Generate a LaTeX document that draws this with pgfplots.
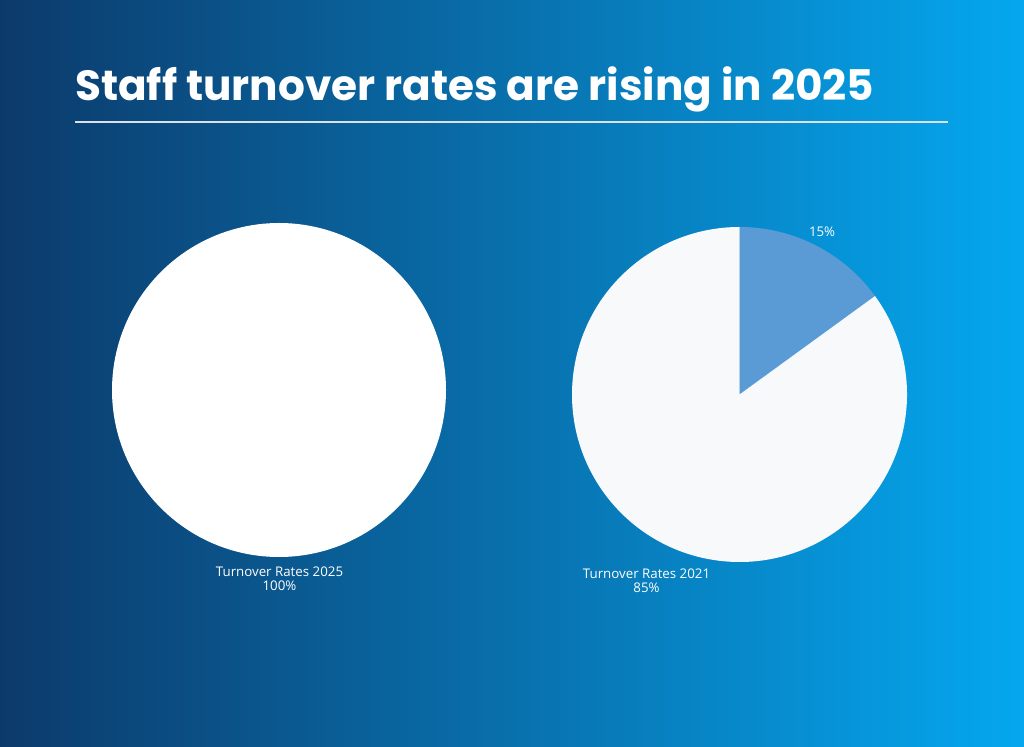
\documentclass[border=0pt]{standalone}
\usepackage{pgfplots}
\pgfplotsset{compat=1.18}
\usepackage{pgfplotstable}
\usepackage{fontspec}
\setmainfont{Open Sans}
\newfontfamily\titlefont{Poppins}

\definecolor{bgleft}{HTML}{0C3A6B}
\definecolor{bgright}{HTML}{05A7EF}
\definecolor{sliceblue}{HTML}{5B9BD5}
\definecolor{slicelight}{HTML}{F7F9FB}

\tikzset{lbl/.style={text=white,align=center,inner sep=0pt,
    font=\fontsize{13.3}{14}\selectfont}}

% Turnover shares (percent of staff)
\pgfplotstableread{
year value
2025 100
}\pieA
\pgfplotstableread{
part value
leavers 15
stayers 85
}\pieB

\begin{document}
\begin{tikzpicture}
  % background
  \shade[left color=bgleft,right color=bgright] (0pt,0pt) rectangle (1024pt,746pt);
  % title and rule
  \node[anchor=base west,text=white,inner sep=0pt,font=\titlefont\bfseries\fontsize{42.2}{50}\selectfont]
    at (75pt,645pt) {Staff turnover rates are rising in 2025};
  \draw[white!85!bgleft,line width=1.2pt] (75pt,624pt) -- (948pt,624pt);

  % slice angles, clockwise from 12 o'clock
  \pgfplotstablegetelem{0}{value}\of\pieA
  \pgfmathsetmacro\aEndA{90-3.6*\pgfplotsretval}
  \pgfplotstablegetelem{0}{value}\of\pieB
  \pgfmathsetmacro\bEndOne{90-3.6*\pgfplotsretval}
  \pgfplotstablegetelem{1}{value}\of\pieB
  \pgfmathsetmacro\bEndTwo{\bEndOne-3.6*\pgfplotsretval}
  \pgfmathsetmacro\bx{cos(\bEndOne)}
  \pgfmathsetmacro\by{sin(\bEndOne)}

  \pgfplotsset{piestyle/.style={
    hide axis, scale only axis, width=334pt, height=334pt,
    xmin=-1, xmax=1, ymin=-1, ymax=1, clip=false}}

  % 2025 pie
  \begin{axis}[piestyle, at={(279pt,356pt)}, anchor=center]
    \fill[white] (axis cs:0,0) -- (axis cs:0,1)
      arc[start angle=90, end angle=\aEndA, radius=1] -- cycle;
    \node[lbl,anchor=north] at (axis cs:0.003,-1.055)
      {Turnover Rates 2025\\100\%};
  \end{axis}

  % 2021 pie
  \begin{axis}[piestyle, width=335pt, height=335pt, at={(739.5pt,351.5pt)}, anchor=center]
    \fill[sliceblue] (axis cs:0,0) -- (axis cs:0,1)
      arc[start angle=90, end angle=\bEndOne, radius=1] -- cycle;
    \fill[slicelight] (axis cs:0,0) -- (axis cs:\bx,\by)
      arc[start angle=\bEndOne, end angle=\bEndTwo, radius=1] -- cycle;
    \node[lbl] at (axis cs:0.493,0.97) {15\%};
    \node[lbl,anchor=north] at (axis cs:-0.555,-1.04)
      {Turnover Rates 2021\\85\%};
  \end{axis}
\end{tikzpicture}
\end{document}
